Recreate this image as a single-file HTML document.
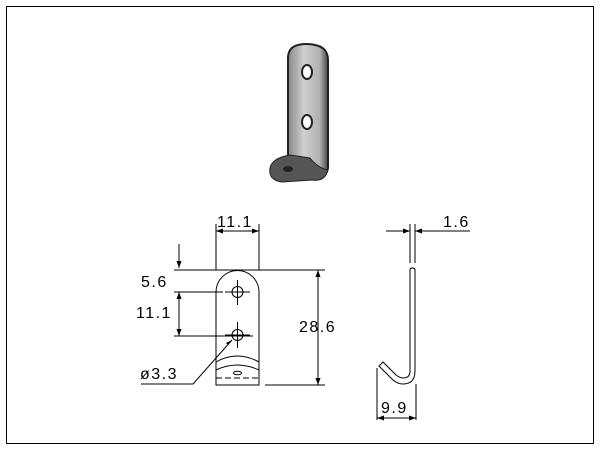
<!DOCTYPE html>
<html><head><style>body{margin:0;background:#fff}svg{display:block}text{font-family:"Liberation Sans",sans-serif;font-size:16px;letter-spacing:1.5px;fill:#000}</style></head><body>
<svg width="600" height="450" viewBox="0 0 600 450">
<defs><linearGradient id="g" x1="0" x2="1"><stop offset="0" stop-color="#888"/><stop offset=".4" stop-color="#d0d0d0"/><stop offset=".8" stop-color="#b0b0b0"/><stop offset="1" stop-color="#444"/></linearGradient></defs>
<rect x="6.5" y="6.5" width="587" height="437" fill="none" stroke="#000"/>
<path d="M288,170 L288,58 Q288,44 306,44 Q328,44 328,60 L328,168 Q326,178 315,176 Z" fill="url(#g)" stroke="#222" stroke-width="2"/>
<path d="M270,168 Q272,158 290,155 L310,158 Q318,168 328,170 Q325,182 312,180 L282,182 Q268,180 270,168Z" fill="#555" stroke="#222"/>
<ellipse cx="307" cy="72" rx="5" ry="7" fill="#fff" stroke="#222" stroke-width="2"/>
<ellipse cx="307" cy="122" rx="5" ry="7" fill="#fff" stroke="#222" stroke-width="2"/>
<ellipse cx="288" cy="169" rx="5" ry="3" fill="#222"/>
<g stroke="#000" stroke-width="1" fill="none">
<path d="M216,385 L216,292 A21.5,21.5 0 0 1 259,292 L259,385 Z"/>
<circle cx="237.5" cy="292" r="5.5"/><circle cx="237.5" cy="335" r="5.5"/>
<path d="M237.5,280 V305 M225,292 H250 M237.5,322 V348 M225,335 H250"/>
<path d="M216,362 Q237,350 259,362 M216,370 Q237,360 259,370"/>
<path d="M216,378 H259" stroke-dasharray="6,3"/>
<ellipse cx="237.5" cy="373" rx="4" ry="1.8"/>
<path d="M216,224 V270 M259,224 V270 M216,231 H259"/>
<path d="M174,270 H325 M174,292 H223 M174,336 H253"/>
<path d="M179,244 V268 M179,292 V336"/>
<path d="M318,270 V385 M265,385 H325"/>
<path d="M232,340 L193,384 H141"/>
<path d="M410,224 V263 M415,224 V263 M386,231 H410 M415,231 H470"/>
<path d="M410,270 Q410,268 412,268 Q415,268 415,270 V371 Q415,384 403,384 Q397,384 392,379 L379,366 L383,362 L396,375 Q400,378 403,378 Q410,378 410,371 Z"/>
<path d="M377,368 V420 M416,384 V420 M377,418 H416"/>
</g>
<g fill="#000">
<path d="M216,231 l7,-2.5 v5z M259,231 l-7,-2.5 v5z M179,268 l-2.5,-7 h5z M179,292 l-2.5,7 h5z M179,336 l-2.5,-7 h5z M318,270 l-2.5,7 h5z M318,385 l-2.5,-7 h5z M410,231 l-7,-2.5 v5z M415,231 l7,-2.5 v5z M377,418 l7,-2.5 v5z M416,418 l-7,-2.5 v5z M232,340 l-6,3 l2,2z"/>
</g>
<text x="217" y="227">11.1</text>
<text x="141" y="287">5.6</text>
<text x="136" y="318">11.1</text>
<text x="299" y="332">28.6</text>
<text x="140" y="379">ø3.3</text>
<text x="443" y="227">1.6</text>
<text x="381" y="413">9.9</text>
</svg>
</body></html>
